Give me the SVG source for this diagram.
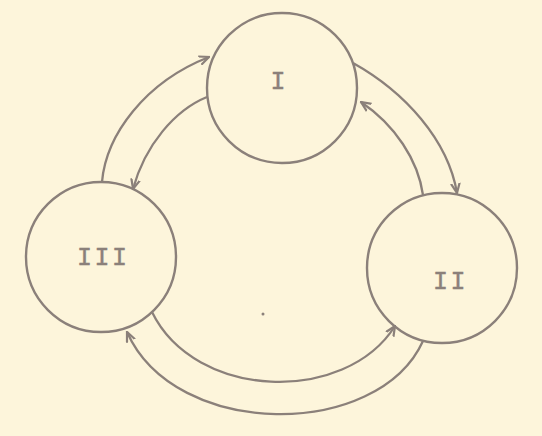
<svg xmlns="http://www.w3.org/2000/svg" width="542" height="436" viewBox="0 0 542 436">
  <style>
    .node { fill: none; stroke: #8b807a; stroke-width: 2.4; }
    .lbl { font-family: "Liberation Mono", "DejaVu Sans Mono", monospace; font-size: 25px; fill: #8b807a; stroke: #8b807a; stroke-width: 0.4; letter-spacing: 2.5px; }
    .edge { fill: none; stroke: #8b807a; stroke-width: 2.3; marker-end: url(#ah); }
  </style>
  <defs>
    <marker id="ah" viewBox="0 0 10 10" refX="9" refY="5" markerWidth="11" markerHeight="11" markerUnits="userSpaceOnUse" orient="auto">
      <path d="M0,1 L9,5 L0,9" fill="none" stroke="#8b807a" stroke-width="2"/>
    </marker>
  </defs>
  <rect x="0" y="0" width="542" height="436" fill="#fdf5db"/>
  <g id="connectors">
    <path id="e_III_I" class="edge" d="M102,182 C106,135 145,82 209,57"/>
    <path id="e_I_III" class="edge" d="M207,97 C175,110 145,145 133,189"/>
    <path id="e_I_II" class="edge" d="M353,63 C405,92 448,140 457,193"/>
    <path id="e_II_I" class="edge" d="M423,195 C418,160 395,125 361,102"/>
    <path id="e_III_II" class="edge" d="M152,312 C195,400 345,405 395,326"/>
    <path id="e_II_III" class="edge" d="M423,341 C378,440 175,440 127,332"/>
  </g>
  <g id="node-I">
    <circle class="node" cx="282" cy="88" r="75"/>
    <text class="lbl" x="270.5" y="89">I</text>
  </g>
  <g id="node-II">
    <circle class="node" cx="442" cy="268" r="75"/>
    <text class="lbl" x="433" y="289">II</text>
  </g>
  <g id="node-III">
    <circle class="node" cx="101" cy="257" r="75"/>
    <text class="lbl" x="77" y="265">III</text>
  </g>
  <circle cx="263" cy="314" r="1.5" fill="#8b807a"/>
</svg>
